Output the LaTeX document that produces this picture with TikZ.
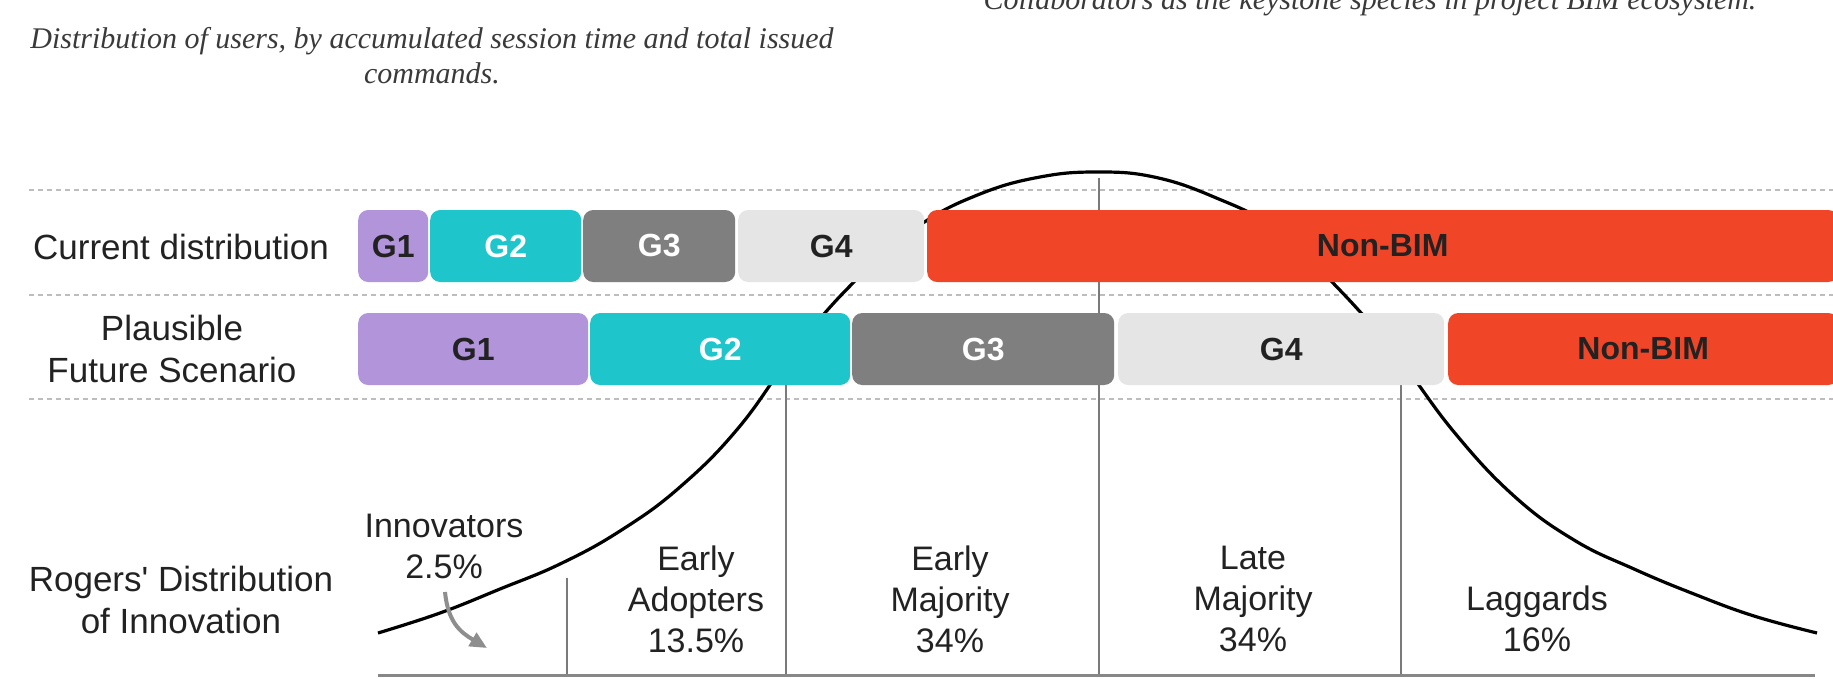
\documentclass[tikz,border=0pt]{standalone}
\usepackage{fontspec}
\setmainfont{Liberation Sans}[Ligatures=TeXOff]
\newfontfamily\capfont{Liberation Serif}
\usetikzlibrary{arrows.meta}
\definecolor{gone}{HTML}{B294DA}
\definecolor{gtwo}{HTML}{1EC6CC}
\definecolor{gthree}{HTML}{7F7F7F}
\definecolor{gfour}{HTML}{E5E5E5}
\definecolor{nonbim}{HTML}{F04527}
\definecolor{rule}{HTML}{BDBDBD}
\definecolor{vline}{HTML}{7A7A7A}
\definecolor{captxt}{HTML}{3A3A3A}
\definecolor{lbl}{HTML}{222222}
\tikzset{
  barbox/.style={anchor=west, rounded corners=10pt, minimum height=72pt, inner sep=0pt,
    font=\fontsize{32}{36}\selectfont\bfseries},
  darktext/.style={text=lbl},
  lighttext/.style={text=white},
  rowlabel/.style={align=center, text=lbl, font=\fontsize{35}{42}\selectfont},
  grouplabel/.style={align=center, text=lbl, font=\fontsize{34}{41}\selectfont},
  dashrule/.style={rule, line width=2pt, dash pattern=on 5pt off 4pt},
  divider/.style={vline, line width=2.5pt},
  bell/.style={black, line width=3.2pt},
  caption/.style={align=center, text=captxt, font=\capfont\itshape\fontsize{30}{35}\selectfont}
}
\begin{document}
\begin{tikzpicture}[x=1pt,y=-1pt]
\useasboundingbox (0,0) rectangle (1833,678);
\fill[white] (0,0) rectangle (1833,678);

% captions
\node[caption] (cap1) at (432,56) {Distribution of users, by accumulated session time and total issued\\commands.};
\node[caption, anchor=base] (cap2) at (1370,9) {Collaborators as the keystone species in project BIM ecosystem.};

% dashed rules
\coordinate (r1a) at (29,190); \coordinate (r1b) at (1833,190);
\coordinate (r2a) at (29,295); \coordinate (r2b) at (1833,295);
\coordinate (r3a) at (29,399); \coordinate (r3b) at (1833,399);
\draw[dashrule] (r1a) -- (r1b);
\draw[dashrule] (r2a) -- (r2b);
\draw[dashrule] (r3a) -- (r3b);

% vertical dividers
\coordinate (v1t) at (567,578); \coordinate (v1b) at (567,675);
\coordinate (v2t) at (786,365); \coordinate (v2b) at (786,675);
\coordinate (v3t) at (1099,178); \coordinate (v3b) at (1099,675);
\coordinate (v4t) at (1401,365); \coordinate (v4b) at (1401,675);
\draw[divider] (v1t) -- (v1b);
\draw[divider] (v2t) -- (v2b);
\draw[divider] (v3t) -- (v3b);
\draw[divider] (v4t) -- (v4b);

% axis
\coordinate (ax1) at (378,675); \coordinate (ax2) at (1815,675);
\draw[vline!90, line width=3pt] (ax1) -- (ax2);

% bell curve
\draw[bell] plot[smooth, tension=0.7] coordinates {
 (378,633) (440,613) (500,589) (560,564) (620,531) (680,487) (740,426) (800,343)
 (860,276) (920,225) (980,194) (1040,177) (1097,172) (1154,177) (1214,197)
 (1274,228) (1334,284) (1394,352) (1454,432) (1514,496) (1574,540) (1634,569)
 (1694,594) (1754,616) (1817,633)};

% bars row 1
\node[barbox, fill=gone, darktext, minimum width=70pt] (c1) at (358,246) {G1};
\node[barbox, fill=gtwo, lighttext, minimum width=151pt] (c2) at (430,246) {G2};
\node[barbox, fill=gthree, lighttext, minimum width=152pt] (c3) at (583,246) {G3};
\node[barbox, fill=gfour, darktext, minimum width=186pt] (c4) at (738,246) {G4};
\node[barbox, fill=nonbim, darktext, minimum width=911pt] (c5) at (927,246) {Non-BIM};

% bars row 2
\node[barbox, fill=gone, darktext, minimum width=230pt] (f1) at (358,349) {G1};
\node[barbox, fill=gtwo, lighttext, minimum width=260pt] (f2) at (590,349) {G2};
\node[barbox, fill=gthree, lighttext, minimum width=262pt] (f3) at (852,349) {G3};
\node[barbox, fill=gfour, darktext, minimum width=326pt] (f4) at (1118,349) {G4};
\node[barbox, fill=nonbim, darktext, minimum width=390pt] (f5) at (1448,349) {Non-BIM};

% row labels
\node[rowlabel] (lcur) at (181,247) {Current distribution};
\node[rowlabel] (lfut) at (172,349) {Plausible\\Future Scenario};
\node[rowlabel] (lrog) at (181,600) {Rogers' Distribution\\of Innovation};

% group labels
\node[grouplabel] (innov) at (444,546) {Innovators\\2.5\%};
\node[grouplabel] (eadopt) at (696,599) {Early\\Adopters\\13.5\%};
\node[grouplabel] (emaj) at (950,599) {Early\\Majority\\34\%};
\node[grouplabel] (lmaj) at (1253,599) {Late\\Majority\\34\%};
\node[grouplabel] (lagg) at (1537,619) {Laggards\\16\%};

% innovators arrow
\coordinate (arA) at (445,592);
\coordinate (arB) at (487,648);
\draw[vline!85, line width=4pt, -{Triangle[length=17pt,width=15pt]}] (arA) .. controls (448,622) and (460,632) .. (arB);
\end{tikzpicture}
\end{document}
